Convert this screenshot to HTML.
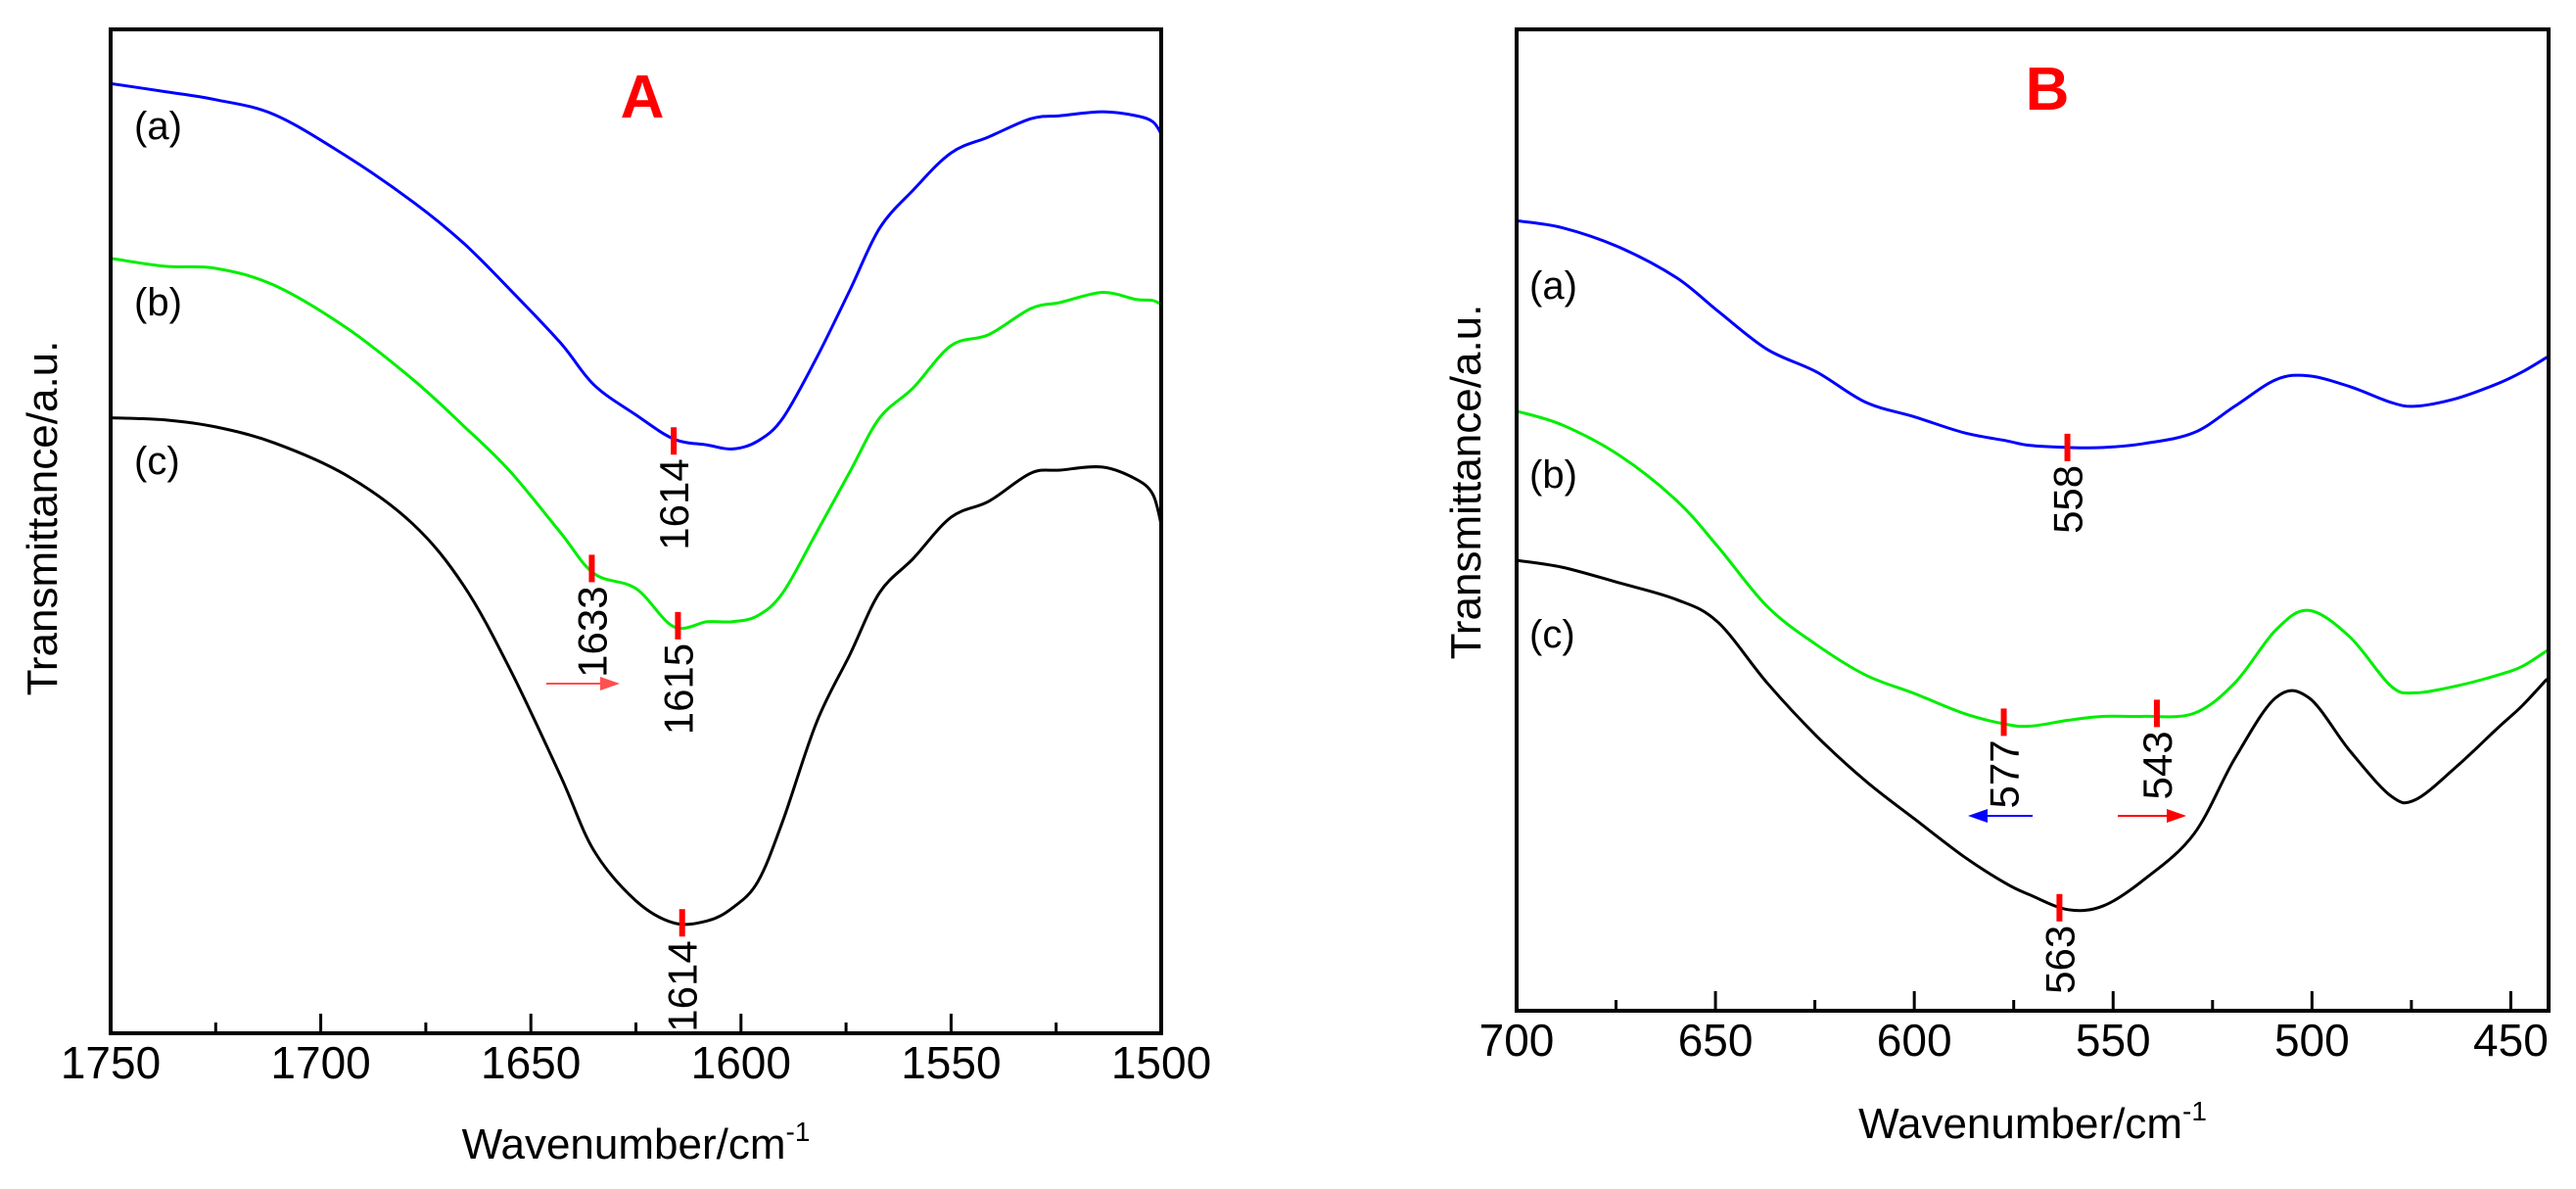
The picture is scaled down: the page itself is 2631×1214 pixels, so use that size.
<!DOCTYPE html>
<html><head><meta charset="utf-8"><style>
html,body{margin:0;padding:0;background:#fff;}
svg{display:block;font-family:"Liberation Sans",Arial,sans-serif;}
</style></head><body>
<svg id="fig" width="2631" height="1214" viewBox="0 0 2631 1214" xmlns="http://www.w3.org/2000/svg"></svg>
<script>
// ---- Panel A data ----
const wnA = [1750,1737,1725,1711,1694,1678,1666,1655,1643,1635,1625,1616,1608,1602,1596,1590,1582,1574,1567,1559,1550,1541,1531,1524,1514,1506,1502,1500];
const aA = [94.6,93.8,93.0,91.5,87.4,82.8,78.7,74.1,68.8,64.6,61.6,59.2,58.6,58.2,59.0,61.3,67.3,74.1,80.2,84.0,87.7,89.3,91.1,91.4,91.8,91.4,90.8,89.6];
const bA = [77.2,76.4,76.2,74.5,70.3,65.1,60.5,56.0,49.9,45.8,44.3,40.5,41.0,41.0,41.6,43.9,49.9,56.0,61.3,64.3,68.5,69.6,72.2,72.8,73.8,73.1,73.0,72.6];
const cA = [61.3,61.1,60.4,58.8,55.6,50.7,44.6,36.3,25.7,18.2,13.2,11.0,11.2,12.5,15.1,21.2,31.0,37.8,43.9,47.3,51.4,53.0,55.8,56.1,56.4,55.2,53.7,50.7];
const ticksA = [1750,1700,1650,1600,1550,1500];
// ---- Panel B data ----
const wnB = [700,688.6,674.2,659.8,649.4,637.0,624.6,612.2,599.8,587.5,577.1,570.9,561.3,552.4,542.1,529.7,519.4,509.1,500.8,490.5,480.2,474.0,463.6,453.3,447.1,440.9];
const aB = [80.5,79.8,77.8,74.7,71.3,67.4,65.1,62.0,60.5,58.9,58.1,57.6,57.4,57.4,57.8,58.9,61.6,64.3,64.7,63.6,62.0,61.6,62.4,63.9,65.1,66.6];
const bB = [61.1,59.7,56.6,52.0,47.3,41.2,37.3,34.2,32.3,30.3,29.2,29.0,29.6,30.0,30.0,30.3,33.4,38.8,40.8,38.1,33.1,32.4,33.1,34.2,35.1,36.7];
const cB = [45.9,45.2,43.6,41.9,39.6,33.4,28.0,23.4,19.5,15.7,13.0,11.8,10.3,10.7,13.4,18.0,25.7,31.9,31.9,26.5,21.9,21.5,24.9,28.8,31.1,33.8];
const ticksB = [700,650,600,550,500,450];
// peak markers [wavenumber, value, label]
const peaksA = [[1616,59.0,"1614"],[1635.5,46.3,"1633"],[1615,40.6,"1615"],[1614,11.0,"1614"]];
const peaksB = [[561.5,57.4,"558"],[577.5,29.4,"577"],[539,30.3,"543"],[563.5,10.5,"563"]];

const NS="http://www.w3.org/2000/svg";
const svg=document.getElementById('fig');
function mk(tag,attrs,parent){const e=document.createElementNS(NS,tag);for(const k in attrs)e.setAttribute(k,attrs[k]);(parent||svg).appendChild(e);return e;}
function pathD(pts){let d="M"+pts[0][0]+","+pts[0][1];for(let i=0;i<pts.length-1;i++){const p0=pts[i-1]||pts[i],p1=pts[i],p2=pts[i+1],p3=pts[i+2]||p2;
 const c1=[p1[0]+(p2[0]-p0[0])/6,p1[1]+(p2[1]-p0[1])/6],c2=[p2[0]-(p3[0]-p1[0])/6,p2[1]-(p3[1]-p1[1])/6];
 d+=" C"+c1[0].toFixed(1)+","+c1[1].toFixed(1)+" "+c2[0].toFixed(1)+","+c2[1].toFixed(1)+" "+p2[0].toFixed(1)+","+p2[1].toFixed(1);}return d;}

function panel(o){
 const g=mk('g',{});
 
 
 const X=v=>o.L+(o.x0-v)/(o.x0-o.x1)*(o.R-o.L);
 const Y=v=>o.B-v/100*(o.B-o.T);
 const clip=mk('clipPath',{id:o.name+'-clip'},g);mk('rect',{x:o.L,y:o.T,width:o.R-o.L,height:o.B-o.T},clip);
 const series=[[o.a,'#0000ff','series-a'],[o.b,'#00ee00','series-b'],[o.c,'#000000','series-c']];
 series.forEach(s=>{const p=mk('path',{d:pathD(o.wn.map((w,i)=>[X(w),Y(s[0][i])])),fill:'none',stroke:s[1],'stroke-width':3,'clip-path':'url(#'+o.name+'-clip)'},g);
  
  });
 const fr=mk('rect',{x:o.L,y:o.T,width:o.R-o.L,height:o.B-o.T,fill:'none',stroke:'#000','stroke-width':4},g);
 
 
 for(let v=o.x0;v>=o.x1-0.01;v-=25){const major=Math.abs(v%50)<0.01;const x=X(v);
  const t=mk('line',{x1:x,x2:x,y1:o.B,y2:o.B-(major?20:11),stroke:'#000','stroke-width':3},g);
  
  }
 o.ticks.forEach(v=>{const t=mk('text',{x:X(v),y:o.B+46,'font-size':46,'text-anchor':'middle',fill:'#000'},g);t.textContent=v;
  
  });
 const xt=mk('text',{x:(o.L+o.R)/2,y:o.xtY,'font-size':44,'text-anchor':'middle',fill:'#000'},g);
 xt.innerHTML='Wavenumber/cm<tspan font-size="28" dy="-18">-1</tspan>';
 
 
 const yt=mk('text',{x:0,y:0,'font-size':44,'text-anchor':'middle',fill:'#000',transform:'translate('+o.ytx+','+o.yty+') rotate(-90)'},g);
 yt.textContent='Transmittance/a.u.';
 
 
 const ti=mk('text',{x:o.titleX,y:o.titleY,'font-size':62,'font-weight':'bold','text-anchor':'middle',fill:'#ff0000'},g);
 ti.textContent=o.title;
 
 
 o.labels.forEach(l=>{const t=mk('text',{x:l[0],y:l[1],'font-size':40,fill:'#000'},g);t.textContent=l[2];
  
  });
 o.peaks.forEach(p=>{const x=X(p[0]),y=Y(p[1]);
  const m=mk('line',{x1:x,x2:x,y1:y-14,y2:y+14,stroke:'#ff0000','stroke-width':6},g);
  
  
  const t=mk('text',{x:0,y:0,'font-size':42,'text-anchor':'end',fill:'#000',transform:'translate('+(x+15)+','+(y+18)+') rotate(-90)'},g);
  t.textContent=p[2];
  
  });
 o.arrows.forEach(a=>{const dir=a[1]>a[0]?1:-1;
  const l=mk('line',{x1:a[0],x2:a[1]-dir*14,y1:a[2],y2:a[2],stroke:a[3],'stroke-width':2},g);
  
  
  const h=mk('polygon',{points:a[1]+','+a[2]+' '+(a[1]-dir*20)+','+(a[2]-7)+' '+(a[1]-dir*20)+','+(a[2]+7),fill:a[3]},g);
  
  });
}
panel({name:'panel-a',L:113,R:1186,T:30,B:1055,x0:1750,x1:1500,wn:wnA,a:aA,b:bA,c:cA,ticks:ticksA,
 xtY:1183,ytx:58,yty:529,title:'A',titleX:656,titleY:120,
 labels:[[137,142,'(a)'],[137,322,'(b)'],[137,484,'(c)']],peaks:peaksA,
 arrows:[[558,633,698,'#ff5050']]});
panel({name:'panel-b',L:1549,R:2603,T:30,B:1032,x0:700,x1:440.5,wn:wnB,a:aB,b:bB,c:cB,ticks:ticksB,
 xtY:1162,ytx:1512,yty:492,title:'B',titleX:2091,titleY:112,
 labels:[[1562,305,'(a)'],[1562,498,'(b)'],[1562,661,'(c)']],peaks:peaksB,
 arrows:[[2076,2010,833,'#0000ff'],[2163,2233,833,'#ff0000']]});
</script>
</body></html>
